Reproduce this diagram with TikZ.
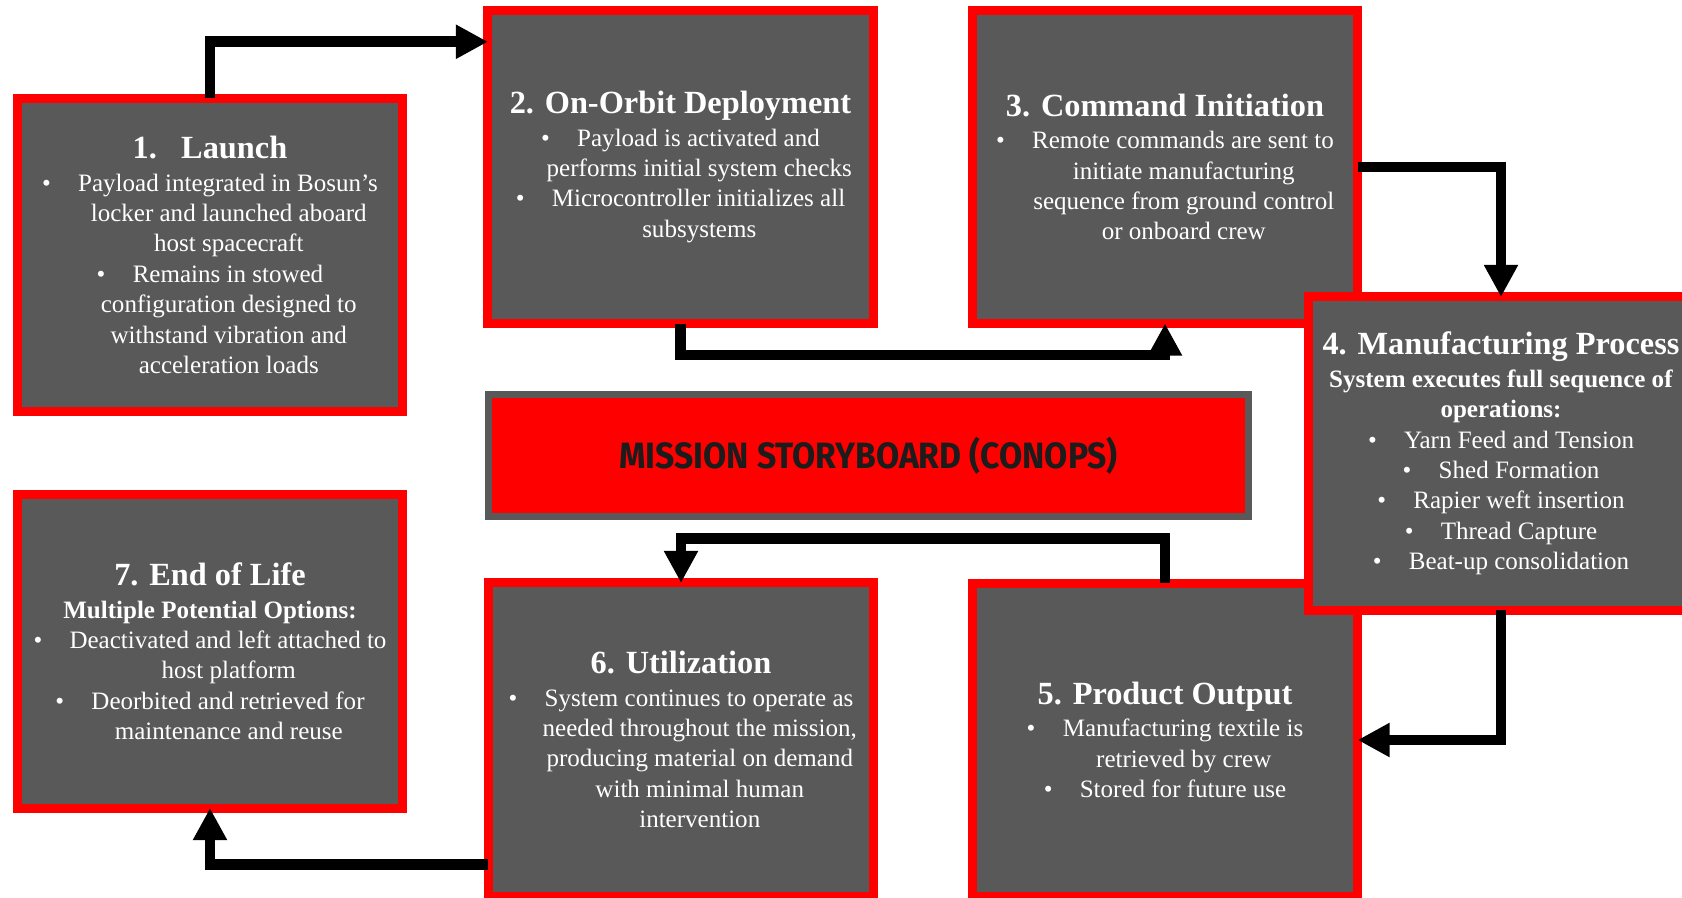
\documentclass[tikz,border=0pt]{standalone}
\usepackage{fontspec}
\setmainfont{Liberation Serif}
\newfontfamily\bannerfont{Fira Sans}
\usepackage{graphicx}
\usepackage{xcolor}
\usepackage{tikz}
\usetikzlibrary{calc, positioning, arrows.meta}

\definecolor{boxred}{HTML}{FF0000}
\definecolor{boxgray}{HTML}{595959}
\definecolor{inkdark}{HTML}{1C1C1C}

\newcommand{\hdfont}{\bfseries\fontsize{23}{27}\selectfont}
\newcommand{\blt}{\makebox[1.44em][l]{\textbullet}}
\newcommand{\ind}{\hspace*{1.5em}}

\begin{document}
\begin{tikzpicture}[x=0.025cm,y=-0.025cm,
    stage/.style={draw=boxred, fill=boxgray, line width=0.225cm,
      minimum width=9.625cm, minimum height=7.825cm, inner sep=0pt, outer sep=0pt,
      text=white, align=center, font=\fontsize{17.8}{21.6}\selectfont},
    banner/.style={draw=boxgray, fill=boxred, line width=0.175cm,
      minimum width=19cm, minimum height=3.05cm, inner sep=0pt, outer sep=0pt,
      text=inkdark, font=\bannerfont\bfseries\fontsize{26}{30}\selectfont},
    flow/.style={line width=0.27cm, -{Triangle[length=0.8cm,width=0.8cm]}}]
        \useasboundingbox (0,0) rectangle (1682,898);
        % Stages
        \node[stage] (launch) at (210,255) {{\hdfont 1.\hspace{0.75em}Launch}\\[1.4pt]
          \blt Payload integrated in Bosun’s\\
          \ind locker and launched aboard\\
          \ind host spacecraft\\
          \blt Remains in stowed\\
          \ind configuration designed to\\
          \ind withstand vibration and\\
          \ind acceleration loads};
        \node[stage] (deploy) at (680.5,167) {{\hdfont 2. On-Orbit Deployment}\\[1.4pt]
          \blt Payload is activated and\\
          \ind performs initial system checks\\
          \blt Microcontroller initializes all\\
          \ind subsystems};
        \node[stage] (command) at (1165,167) {{\hdfont 3. Command Initiation}\\[1.4pt]
          \blt Remote commands are sent to\\
          \ind initiate manufacturing\\
          \ind sequence from ground control\\
          \ind or onboard crew};
        \node[stage] (product) at (1165,740) {{\hdfont 5. Product Output}\\[1.4pt]
          \blt Manufacturing textile is\\
          \ind retrieved by crew\\
          \blt Stored for future use};
        \node[stage] (utilize) at (681,739.5) {{\hdfont 6. Utilization}\\[1.4pt]
          \blt System continues to operate as\\
          \ind needed throughout the mission,\\
          \ind producing material on demand\\
          \ind with minimal human\\
          \ind intervention};
        \node[stage] (eol) at (210,651.5) {{\hdfont 7. End of Life}\\[1.4pt]
          \textbf{Multiple Potential Options:}\\
          \blt Deactivated and left attached to\\
          \ind host platform\\
          \blt Deorbited and retrieved for\\
          \ind maintenance and reuse};
        \node[stage] (process) at (1501,453.5) {{\hdfont 4. Manufacturing Process}\\[1.4pt]
          \textbf{System executes full sequence of}\\
          \textbf{operations:}\\
          \blt Yarn Feed and Tension\\
          \blt Shed Formation\\
          \blt Rapier weft insertion\\
          \blt Thread Capture\\
          \blt Beat-up consolidation};
        % Title
        \node[banner] (title) at (868.5,455.5) {\scalebox{0.92}[1]{MISSION STORYBOARD (CONOPS)}};
        % Arrows
        \draw[flow] (launch.north) |- ($(deploy.north west)!0.1!(deploy.south west)$);
        \draw[flow] (deploy.south) -- ++(0,31.5) -| (command.south);
        \draw[flow] (command.east) -| (process.north);
        \draw[flow] (process.south) |- (product.east);
        \draw[flow] (product.north) -- ++(0,-45) -| (utilize.north);
        \draw[flow] ($(utilize.north west)!0.9!(utilize.south west)$) -| (eol.south);
    \end{tikzpicture}
\end{document}
